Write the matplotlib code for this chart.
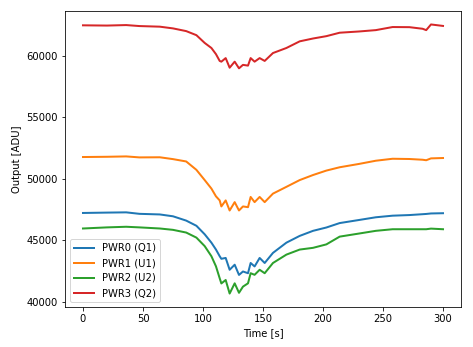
import matplotlib
matplotlib.use("Agg")
import matplotlib.pyplot as plt

time_s = [0, 20, 36, 47, 64, 75, 86, 94.5, 101.4, 107, 110.8, 113.9, 115.3, 118.9, 122.2,
          126.4, 130, 133.3, 137.5, 139.7, 143, 147.2, 151.4, 158.3, 169.5, 180.6, 191.7,
          202.8, 213.9, 230, 244, 258, 272, 283, 286, 290, 300]

pwr0 = [47220, 47250, 47270, 47150, 47100, 46950, 46600, 46180, 45490, 44810, 44250, 43710,
        43500, 43570, 42610, 43020, 42190, 42470, 42330, 43160, 42880, 43570, 43160, 43980,
        44810, 45360, 45770, 46040, 46400, 46650, 46870, 47000, 47050, 47120, 47140, 47180,
        47200]
pwr1 = [51760, 51780, 51810, 51730, 51740, 51590, 51400, 50720, 49890, 49200, 48570, 48240,
        47750, 48240, 47420, 48100, 47420, 47750, 47690, 48520, 48100, 48520, 48100, 48790,
        49340, 49890, 50300, 50660, 50930, 51200, 51460, 51620, 51600, 51540, 51500, 51650,
        51680]
pwr2 = [45960, 46050, 46100, 46050, 45960, 45850, 45630, 45220, 44530, 43710, 42890, 41920,
        41500, 41780, 40680, 41510, 40740, 41240, 41510, 42330, 42200, 42610, 42330, 43160,
        43840, 44250, 44390, 44670, 45300, 45550, 45770, 45900, 45900, 45900, 45900, 45950,
        45900]
pwr3 = [62450, 62430, 62470, 62390, 62340, 62200, 61980, 61650, 61020, 60610, 60110, 59560,
        59500, 59790, 59010, 59500, 58960, 59240, 59180, 59790, 59500, 59790, 59560, 60200,
        60610, 61150, 61380, 61570, 61850, 61950, 62060, 62310, 62300, 62170, 62060, 62520,
        62400]

series = [("PWR0 (Q1)", pwr0), ("PWR1 (U1)", pwr1), ("PWR2 (U2)", pwr2), ("PWR3 (Q2)", pwr3)]

fig = plt.figure(figsize=(473 / 72, 347 / 72), dpi=72)
ax = fig.add_axes([65 / 473, 40 / 347, (461 - 65) / 473, (307 - 11) / 347])
for label, vals in series:
    ax.plot(time_s, vals, label=label, linewidth=2.0)
ax.set_xlabel("Time [s]")
ax.set_ylabel("Output [ADU]")
ax.legend(loc="lower left")
fig.savefig("out.png", dpi=72)
